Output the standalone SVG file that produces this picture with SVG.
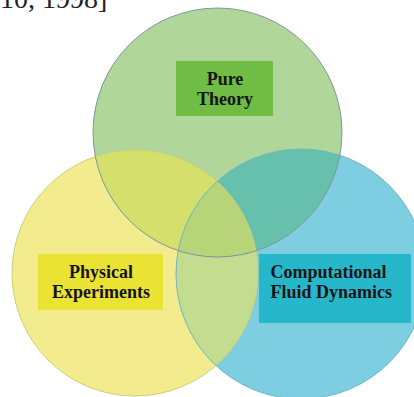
<svg xmlns="http://www.w3.org/2000/svg" width="414" height="397" viewBox="0 0 414 397">
  <style>
    .lbl { font-family: "Liberation Serif", "Times New Roman", serif; font-weight: bold; font-size: 18px; fill: #141414; }
    .cap { font-family: "Liberation Serif", "Times New Roman", serif; font-size: 28px; fill: #222; }
    .edge { fill: none; stroke-width: 1; }
  </style>
  <defs>
    <clipPath id="clipY"><circle cx="135" cy="273" r="123"/></clipPath>
    <clipPath id="clipB"><circle cx="301" cy="274" r="125"/></clipPath>
    <clipPath id="clipG"><circle cx="217.5" cy="132.5" r="124.5"/></clipPath>
  </defs>
  <rect width="414" height="397" fill="#ffffff"/>
  <text class="cap" x="0" y="8">10, 1998]</text>

  <g id="physical-experiments">
    <circle cx="135" cy="273" r="123" fill="#f2ec8e"/>
    <rect x="38" y="254" width="125" height="56" fill="#ebe334"/>
    <text class="lbl" x="101" y="277.5" text-anchor="middle">Physical</text>
    <text class="lbl" x="101" y="298" text-anchor="middle">Experiments</text>
  </g>

  <g id="cfd">
    <circle cx="301" cy="274" r="125" fill="#7ccee0"/>
    <rect x="259" y="254" width="152" height="69" fill="#26b7cb"/>
    <text class="lbl" x="270.5" y="277.5">Computational</text>
    <text class="lbl" x="270.5" y="298">Fluid Dynamics</text>
  </g>

  <g id="pure-theory">
    <circle cx="217.5" cy="132.5" r="124.5" fill="#b1d699"/>
    <rect x="176" y="61" width="97" height="55" fill="#70bd45"/>
    <text class="lbl" x="225" y="84.5" text-anchor="middle">Pure</text>
    <text class="lbl" x="225" y="105" text-anchor="middle">Theory</text>
  </g>

  <g id="overlaps">
    <g clip-path="url(#clipY)">
      <circle cx="217.5" cy="132.5" r="124.5" fill="#d5e06c"/>
      <circle cx="301" cy="274" r="125" fill="#c4dc90"/>
    </g>
    <g clip-path="url(#clipB)">
      <circle cx="217.5" cy="132.5" r="124.5" fill="#66c0ac"/>
    </g>
    <g clip-path="url(#clipY)">
      <g clip-path="url(#clipB)">
        <circle cx="217.5" cy="132.5" r="124.5" fill="#b7d479"/>
      </g>
    </g>
    <circle class="edge" cx="135" cy="273" r="123" stroke="#c9d27a"/>
    <circle class="edge" cx="301" cy="274" r="125" stroke="#6fb7c4"/>
    <circle class="edge" cx="217.5" cy="132.5" r="124.5" stroke="#7d97a0"/>
  </g>
</svg>
